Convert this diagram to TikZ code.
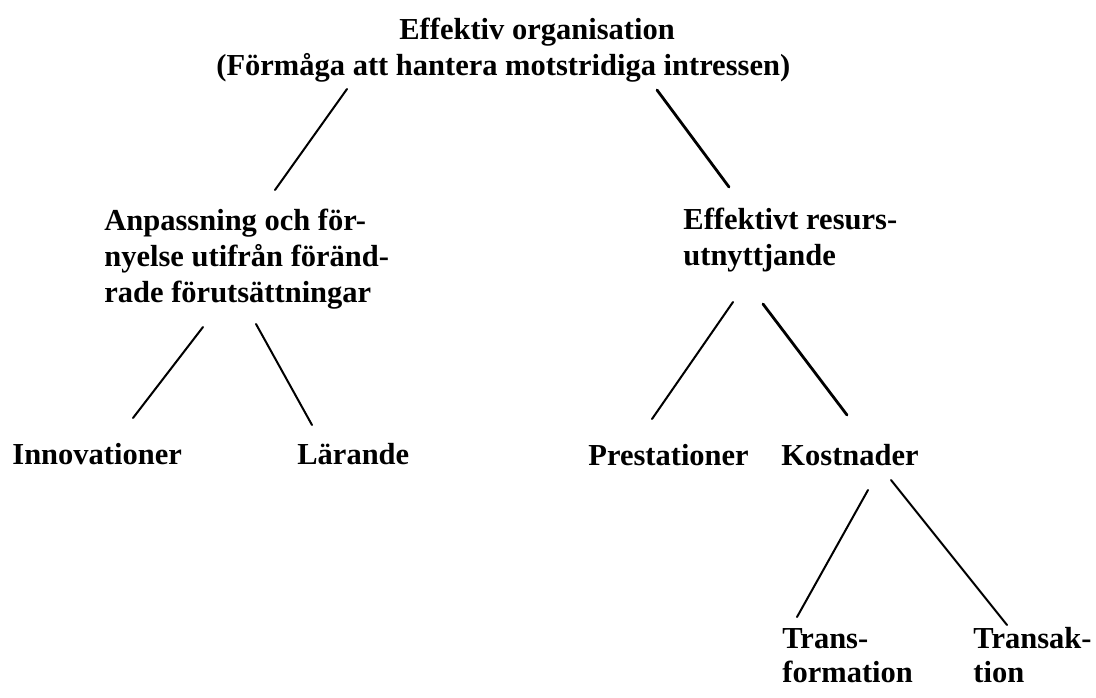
\documentclass[tikz,border=0pt]{standalone}
\usepackage{fontspec}
\setmainfont{Liberation Serif}
\usepackage{tikz}
\usetikzlibrary{positioning, calc}

\begin{document}
\begin{tikzpicture}[
      x=0.5pt, y=-0.5pt,
      txt/.style={font=\fontsize{15.25}{18}\selectfont\bfseries, align=left, anchor=base west, inner sep=0pt},
      leaf/.style={txt, font=\fontsize{15.25}{17}\selectfont\bfseries},
      branch/.style={line width=1pt, line cap=round},
    ]
      \useasboundingbox (0,0) rectangle (1096,697);

      % multi-line nodes sit on the baseline of their last line
      \node[txt] (org) at (216, 75) {\hspace*{91.5pt}Effektiv organisation\\(Förmåga att hantera motstridiga intressen)};

      \node[txt] (anp) at (104, 302) {Anpassning och för-\\nyelse utifrån föränd-\\rade förutsättningar};
      \node[txt] (res) at (683, 265) {Effektivt resurs-\\utnyttjande};

      \node[leaf] (inn) at (12, 464) {Innovationer};
      \node[leaf] (lar) at (297, 464) {Lärande};
      \node[leaf] (pre) at (588, 465) {Prestationer};
      \node[leaf] (kos) at (781, 465) {Kostnader};

      \node[leaf] (trf) at (782, 682) {Trans-\\formation};
      \node[leaf] (trk) at (973, 682) {Transak-\\tion};

      % line ends
      \coordinate (org-l) at (347, 89);  \coordinate (anp-t) at (275, 190);
      \coordinate (org-r) at (657, 90);  \coordinate (res-t) at (729, 187);
      \coordinate (anp-l) at (203, 327); \coordinate (inn-t) at (133, 418);
      \coordinate (anp-r) at (256, 324); \coordinate (lar-t) at (312, 425);
      \coordinate (res-l) at (733, 302); \coordinate (pre-t) at (652, 419);
      \coordinate (res-r) at (763, 304); \coordinate (kos-t) at (847, 415);
      \coordinate (kos-l) at (868, 490); \coordinate (trf-t) at (797, 617);
      \coordinate (kos-r) at (891, 480); \coordinate (trk-t) at (1007, 625);

      \draw[branch] (org-l) -- (anp-t);
      \draw[branch, line width=1.4pt] (org-r) -- (res-t);
      \draw[branch] (anp-l) -- (inn-t);
      \draw[branch] (anp-r) -- (lar-t);
      \draw[branch] (res-l) -- (pre-t);
      \draw[branch, line width=1.4pt] (res-r) -- (kos-t);
      \draw[branch] (kos-l) -- (trf-t);
      \draw[branch] (kos-r) -- (trk-t);
    \end{tikzpicture}
\end{document}
